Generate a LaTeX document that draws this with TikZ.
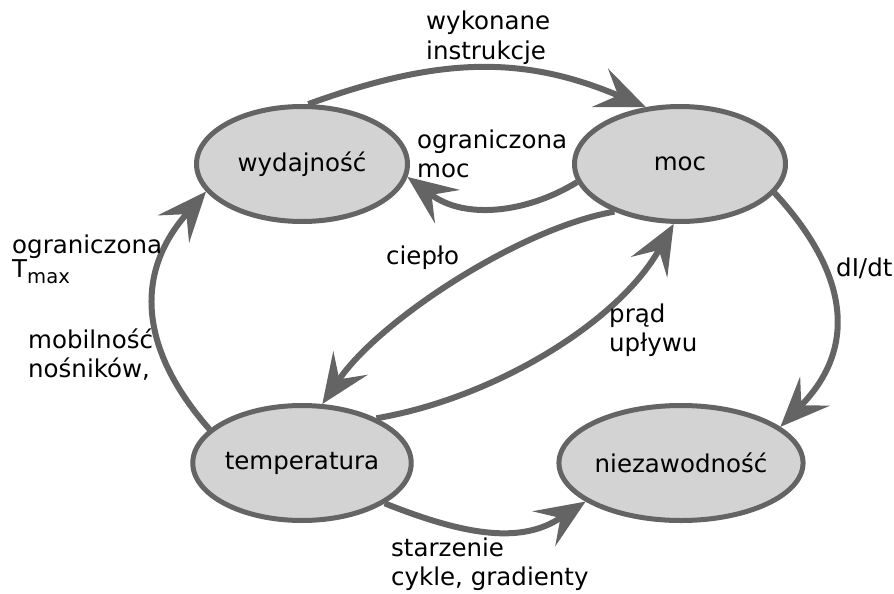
\documentclass[tikz,border=0pt]{standalone}
\usepackage{fontspec}
\setmainfont{DejaVu Sans}
\usetikzlibrary{arrows.meta,shapes.geometric}
\definecolor{edgegray}{HTML}{646464}
\definecolor{fillgray}{HTML}{D3D3D3}
\begin{document}
\begin{tikzpicture}[x=1pt,y=-1pt,
  state/.style={ellipse,draw=edgegray,fill=fillgray,line width=5pt,
    minimum width=211pt,minimum height=115pt,inner sep=0pt,
    font=\fontsize{24.5}{29.5}\selectfont},
  conn/.style={draw=edgegray,line width=6pt,
    -{Stealth[length=50pt,width=42pt,inset=20pt,line width=0pt]}},
  lbl/.style={anchor=base west,inner sep=0pt,
    font=\fontsize{24.5}{29.5}\selectfont}]
\useasboundingbox (0,0) rectangle (894,594);

\node[state] (wyd)  at (302,164) {wydajność};
\node[state] (moc)  at (680,164) {moc};
\node[state] (temp) at (302,463) {temperatura};
\node[state] (niez) at (681,463) {niezawodność};

% connectors
\draw[conn] (wyd.84) .. controls (438,57) and (522,55) .. (moc.121);
\draw[conn] (moc.190) .. controls (525,214) and (464,219) .. (wyd.-7);
\draw[conn] (moc.216) .. controls (520,228) and (380,320) .. (temp.71);
\draw[conn] (temp.31) .. controls (495,398) and (618,322) .. (moc.264);
\draw[conn] (moc.-17.5) .. controls (852,277) and (855,350) .. (niez.20);
\draw[conn] (temp.160) .. controls (145,356) and (130,279) .. (wyd.196);
\draw[conn] (temp.-26) .. controls (469,537) and (522,543) .. (niez.202);

% labels
\node[lbl] (l1) at (426,30) {\begin{tabular}[t]{@{}l@{}}wykonane\\instrukcje\end{tabular}};
\node[lbl] (l2) at (417,148) {\begin{tabular}[t]{@{}l@{}}ograniczona\\moc\end{tabular}};
\node[lbl] (l3) at (12,253) {\begin{tabular}[t]{@{}l@{}}ograniczona\\[-5.5pt]T\raisebox{-6pt}{\fontsize{19.6}{23}\selectfont max}\end{tabular}};
\node[lbl] (l4) at (28,348) {\begin{tabular}[t]{@{}l@{}}mobilność\\nośników,\end{tabular}};
\node[lbl] (l5) at (386,264) {ciepło};
\node[lbl] (l6) at (609,322) {\begin{tabular}[t]{@{}l@{}}prąd\\upływu\end{tabular}};
\node[lbl] (l7) at (836,276) {dI/dt};
\node[lbl] (l8) at (391,556) {\begin{tabular}[t]{@{}l@{}}starzenie\\cykle, gradienty\end{tabular}};
\end{tikzpicture}
\end{document}
